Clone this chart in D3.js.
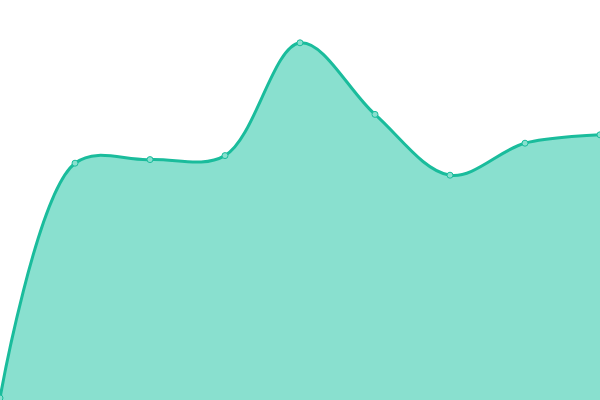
<!DOCTYPE html>
<html>
<head>
<meta charset="utf-8">
<script src="https://cdn.jsdelivr.net/npm/d3@7"></script>
<style>
  html, body { margin: 0; padding: 0; background: #fff; }
  svg { display: block; }
</style>
</head>
<body>
<div id="chart"></div>
<script>
// Canvas
const width = 600,
      height = 400

// Data
const labels = [0, 1, 2, 3, 4, 5, 6, 7, 8]
const values = [0.5, 59.2, 60.1, 61.1, 89.3, 71.4, 56.2, 64.2, 66.3]

let svg = d3.select('#chart')
  .append('svg')
  .attr('width', width)
  .attr('height', height)

let xScale = d3.scaleLinear()
  .domain([0, labels.length - 1])
  .range([0, width])

let yScale = d3.scaleLinear()
  .domain([0, 100])
  .range([height, 0])

let area = d3.area()
  .x((d, i) => xScale(labels[i]))
  .y0(height)
  .y1(d => yScale(d))
  .curve(d3.curveCatmullRom)

let line = d3.line()
  .x((d, i) => xScale(labels[i]))
  .y(d => yScale(d))
  .curve(d3.curveCatmullRom)

svg.append('path')
  .datum(values)
  .attr('d', area)
  .attr('fill', '#89e0cf')

svg.append('path')
  .datum(values)
  .attr('d', line)
  .attr('fill', 'none')
  .attr('stroke', '#1abc9c')
  .attr('stroke-width', 3)

svg.selectAll('circle')
  .data(values)
  .enter()
  .append('circle')
  .attr('cx', (d, i) => xScale(labels[i]))
  .attr('cy', d => yScale(d))
  .attr('r', 3)
  .attr('fill', '#89e0cf')
  .attr('stroke', '#1abc9c')
  .attr('stroke-width', 1)
</script>
</body>
</html>
